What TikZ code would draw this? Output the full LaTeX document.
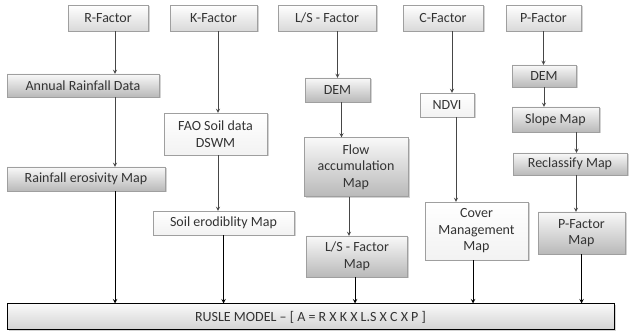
\documentclass[tikz,border=0pt]{standalone}
\usepackage{fontspec}
\setmainfont{Carlito}
\usetikzlibrary{arrows,shadows}
\tikzset{
  box/.style={draw=gray!75,inner sep=0pt,align=center,text=black!80,
    font=\fontsize{14}{16.5}\selectfont,
    drop shadow={opacity=0.35,shadow xshift=1.5pt,shadow yshift=-1.5pt}},
  facbox/.style={box,top color=white,bottom color=gray!30},
  darkbox/.style={box,top color=white!95!gray,bottom color=gray!55},
  litebox/.style={box,top color=white,bottom color=gray!10},
  arr/.style={->,>=stealth,draw=gray!55!black,line width=0.8pt},
  outarr/.style={->,>=stealth,draw=black,line width=1pt}
}
\begin{document}
\begin{tikzpicture}[x=1pt,y=-1pt]
\useasboundingbox (0,0) rectangle (630,331);
% factors
\node[facbox,minimum width=80,minimum height=26](rf) at (108,18){R-Factor};
\node[facbox,minimum width=87,minimum height=26](kf) at (213.5,18){K-Factor};
\node[facbox,minimum width=98,minimum height=26](lsf) at (327,18){L/S - Factor};
\node[facbox,minimum width=80,minimum height=26](cf) at (443,18){C-Factor};
\node[facbox,minimum width=75,minimum height=26](pf) at (543.5,18){P-Factor};
%
\node[darkbox,minimum width=152,minimum height=23](rain) at (83,85.5){Annual Rainfall Data};
\node[darkbox,minimum width=158,minimum height=24](eros) at (86,179){Rainfall erosivity Map};
%
\node[litebox,minimum width=103,minimum height=42](fao) at (215.5,134){FAO Soil data\\DSWM};
\node[litebox,minimum width=141,minimum height=24](soil) at (223.5,223){Soil erodiblity Map};
%
\node[darkbox,minimum width=65,minimum height=24](dem1) at (337.5,90){DEM};
\node[darkbox,minimum width=104,minimum height=59](flow) at (356,167){Flow\\accumulation\\Map};
\node[darkbox,minimum width=101,minimum height=41](lsmap) at (357,256.5){L/S - Factor\\Map};
%
\node[litebox,minimum width=54,minimum height=24](ndvi) at (447,105){NDVI};
\node[litebox,minimum width=103,minimum height=58](cover) at (476.5,231){Cover\\Management\\Map};
%
\node[darkbox,minimum width=64,minimum height=22](dem2) at (544,76){DEM};
\node[darkbox,minimum width=87,minimum height=25](slope) at (555.5,119.5){Slope Map};
\node[darkbox,minimum width=114,minimum height=22](reclass) at (570,164){Reclassify Map};
\node[darkbox,minimum width=87,minimum height=42](pmap) at (581.5,233){P-Factor\\Map};
%
\node[box,draw=black,line width=1pt,top color=white!95!gray,bottom color=gray!35,
  minimum width=607,minimum height=26](rusle) at (310.5,317){RUSLE MODEL -- [ A = R X K X L.S X C X P ]};
%
% R column
\draw[arr]([xshift=7pt]rf.south)--([xshift=7pt]rf.south |- rain.north);
\draw[arr]([xshift=32pt]rain.south)--([xshift=32pt]rain.south |- eros.north);
\draw[outarr]([xshift=29pt]eros.south)--([xshift=29pt]eros.south |- rusle.north);
% K column
\draw[arr]([xshift=4.5pt]kf.south)--([xshift=4.5pt]kf.south |- fao.north);
\draw[arr]([xshift=2.5pt]fao.south)--([xshift=2.5pt]fao.south |- soil.north);
\draw[outarr](soil.south)--(soil.south |- rusle.north);
% L/S column
\draw[arr](lsf.south -| dem1.north)--(dem1.north);
\draw[arr]([xshift=4pt]dem1.south)--([xshift=4pt]dem1.south |- flow.north);
\draw[arr]([xshift=-7pt]flow.south)--([xshift=-7pt]flow.south |- lsmap.north);
\draw[outarr]([xshift=-2pt]lsmap.south)--([xshift=-2pt]lsmap.south |- rusle.north);
% C column
\draw[arr]([xshift=9pt]cf.south)--([xshift=9pt]cf.south |- ndvi.north);
\draw[arr]([xshift=9pt]ndvi.south)--([xshift=9pt]ndvi.south |- cover.north);
\draw[outarr]([xshift=-3.5pt]cover.south)--([xshift=-3.5pt]cover.south |- rusle.north);
% P column
\draw[arr](pf.south)--(pf.south |- dem2.north);
\draw[arr](dem2.south)--(dem2.south |- slope.north);
\draw[arr]([xshift=21pt]slope.south)--([xshift=21pt]slope.south |- reclass.north);
\draw[arr]([xshift=6pt]reclass.south)--([xshift=6pt]reclass.south |- pmap.north);
\draw[outarr](pmap.south)--(pmap.south |- rusle.north);
\end{tikzpicture}
\end{document}
